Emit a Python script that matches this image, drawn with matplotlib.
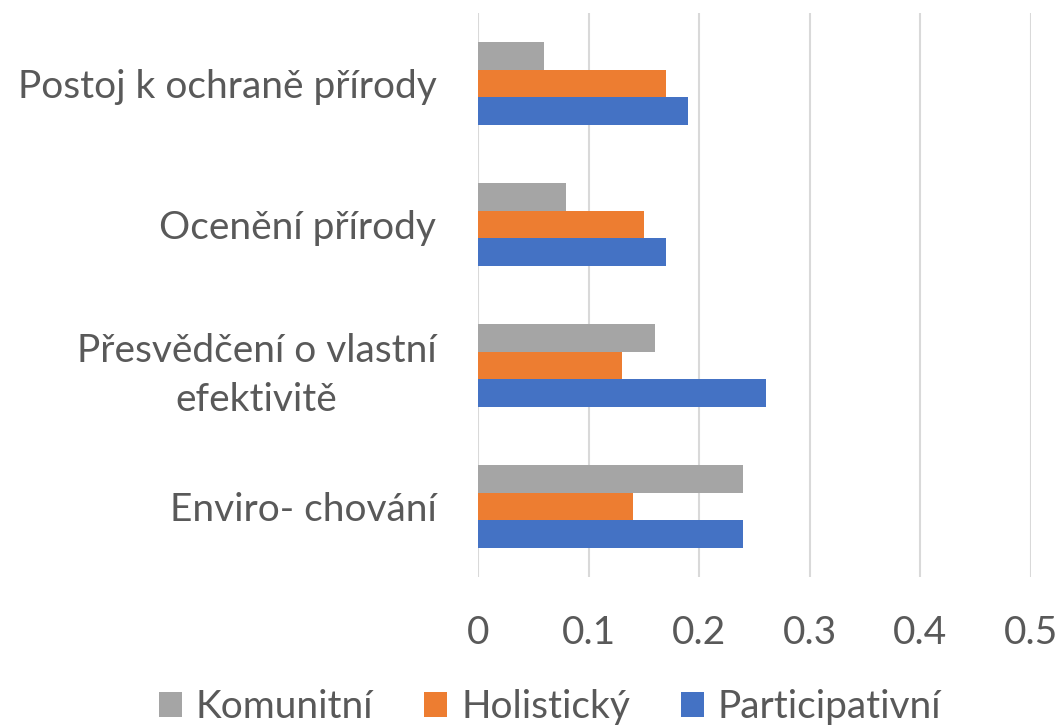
import matplotlib
matplotlib.use("Agg")
import matplotlib.pyplot as plt
import numpy as np
from matplotlib.patches import Patch

categories = ["Enviro- chování", "Přesvědčení o vlastní\nefektivitě", "Ocenění přírody", "Postoj k ochraně přírody"]
series_names = ["Komunitní", "Holistický", "Participativní"]
komunitni = [0.24, 0.16, 0.08, 0.06]
holisticky = [0.14, 0.13, 0.15, 0.17]
participativni = [0.24, 0.26, 0.17, 0.19]
x_ticks = [0, 0.1, 0.2, 0.3, 0.4, 0.5]
x_tick_labels = ["0", "0.1", "0.2", "0.3", "0.4", "0.5"]

colors = ["#A5A5A5", "#ED7D31", "#4472C4"]
text_color = "#595959"
plt.rcParams['font.family'] = ['Lato', 'DejaVu Sans']

fig = plt.figure(figsize=(10.61, 7.26), dpi=100)
ax = fig.add_axes([478/1061, 1-577/726, (1031-478)/1061, (577-13)/726])

y = np.arange(len(categories))
h = 0.194
for vals, off, c in zip([komunitni, holisticky, participativni], [h, 0, -h], colors):
    ax.barh(y + off, vals, height=h, color=c, zorder=3)

ax.set_xlim(0, 0.5)
ax.set_ylim(-0.5, len(categories) - 0.5)
ax.set_xticks(x_ticks)
ax.set_xticklabels(x_tick_labels)
ax.set_yticks(y)
ax.set_yticklabels(categories, multialignment='center', linespacing=1.45)
ax.grid(axis='x', color='#D9D9D9', linewidth=1.5, zorder=0)
for s in ax.spines.values():
    s.set_visible(False)
ax.tick_params(axis='both', length=0, colors=text_color, labelsize=28)
ax.tick_params(axis='y', pad=30)
ax.tick_params(axis='x', pad=27)

handles = [Patch(facecolor=c, edgecolor='none') for c in colors]
fig.legend(handles, series_names, loc='center', bbox_to_anchor=(550/1061, 1-707/726),
           ncol=3, frameon=False, fontsize=28, labelcolor=text_color,
           handlelength=0.6, handleheight=0.6, handletextpad=0.36, columnspacing=1.3,
           borderaxespad=0, borderpad=0)

fig.savefig("out.png", dpi=100)
